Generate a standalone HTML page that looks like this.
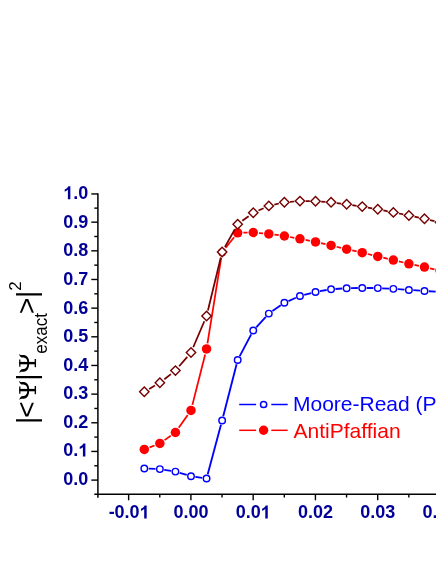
<!DOCTYPE html>
<html><head><meta charset="utf-8"><style>
html,body{margin:0;padding:0;background:#fff;}
body{width:436px;height:564px;overflow:hidden;font-family:"Liberation Sans",sans-serif;}
svg{display:block;will-change:transform}
</style></head><body>
<svg width="436" height="564" viewBox="0 0 436 564">
<rect width="436" height="564" fill="#fff"/>
<g stroke="#000" stroke-width="1.6" fill="none">
<line x1="97.9" y1="193.25" x2="97.9" y2="497.7" stroke-width="1.5"/>
<line x1="94.30000000000001" y1="494.3" x2="440" y2="494.3" stroke-width="1.5"/>
</g>
<g stroke="#000" stroke-width="1.4" fill="none">
<line x1="91.30000000000001" y1="480.10" x2="97.9" y2="480.10"/>
<line x1="91.30000000000001" y1="451.44" x2="97.9" y2="451.44"/>
<line x1="91.30000000000001" y1="422.78" x2="97.9" y2="422.78"/>
<line x1="91.30000000000001" y1="394.12" x2="97.9" y2="394.12"/>
<line x1="91.30000000000001" y1="365.46" x2="97.9" y2="365.46"/>
<line x1="91.30000000000001" y1="336.80" x2="97.9" y2="336.80"/>
<line x1="91.30000000000001" y1="308.14" x2="97.9" y2="308.14"/>
<line x1="91.30000000000001" y1="279.48" x2="97.9" y2="279.48"/>
<line x1="91.30000000000001" y1="250.82" x2="97.9" y2="250.82"/>
<line x1="91.30000000000001" y1="222.16" x2="97.9" y2="222.16"/>
<line x1="91.30000000000001" y1="193.95" x2="97.9" y2="193.95"/>
<line x1="94.30000000000001" y1="465.77" x2="97.9" y2="465.77"/>
<line x1="94.30000000000001" y1="437.11" x2="97.9" y2="437.11"/>
<line x1="94.30000000000001" y1="408.45" x2="97.9" y2="408.45"/>
<line x1="94.30000000000001" y1="379.79" x2="97.9" y2="379.79"/>
<line x1="94.30000000000001" y1="351.13" x2="97.9" y2="351.13"/>
<line x1="94.30000000000001" y1="322.47" x2="97.9" y2="322.47"/>
<line x1="94.30000000000001" y1="293.81" x2="97.9" y2="293.81"/>
<line x1="94.30000000000001" y1="265.15" x2="97.9" y2="265.15"/>
<line x1="94.30000000000001" y1="236.49" x2="97.9" y2="236.49"/>
<line x1="94.30000000000001" y1="208.13" x2="97.9" y2="208.13"/>
<line x1="128.63" y1="494.3" x2="128.63" y2="500.3"/>
<line x1="190.90" y1="494.3" x2="190.90" y2="500.3"/>
<line x1="253.17" y1="494.3" x2="253.17" y2="500.3"/>
<line x1="315.44" y1="494.3" x2="315.44" y2="500.3"/>
<line x1="377.71" y1="494.3" x2="377.71" y2="500.3"/>
<line x1="439.98" y1="494.3" x2="439.98" y2="500.3"/>
<line x1="159.77" y1="494.3" x2="159.77" y2="497.5"/>
<line x1="222.03" y1="494.3" x2="222.03" y2="497.5"/>
<line x1="284.31" y1="494.3" x2="284.31" y2="497.5"/>
<line x1="346.57" y1="494.3" x2="346.57" y2="497.5"/>
<line x1="408.85" y1="494.3" x2="408.85" y2="497.5"/>
</g>
<g font-family="Liberation Sans, sans-serif" font-weight="bold" font-size="18px" fill="#000098">
<text x="63.28" y="485.05">0</text><text x="73.29" y="485.05">.</text><text x="78.29" y="485.05">0</text>
<text x="63.28" y="456.46">0</text><text x="73.29" y="456.46">.</text><path d="M85.38,456.46 L82.91,456.46 L82.91,447.15 Q81.55,448.42 79.72,449.02 L79.72,446.78 Q80.68,446.47 81.82,445.58 Q82.95,444.70 83.37,443.52 L85.38,443.52 Z" fill="#000098"/>
<text x="63.28" y="427.87">0</text><text x="73.29" y="427.87">.</text><text x="78.29" y="427.87">2</text>
<text x="63.28" y="399.28">0</text><text x="73.29" y="399.28">.</text><text x="78.29" y="399.28">3</text>
<text x="63.28" y="370.69">0</text><text x="73.29" y="370.69">.</text><text x="78.29" y="370.69">4</text>
<text x="63.28" y="342.10">0</text><text x="73.29" y="342.10">.</text><text x="78.29" y="342.10">5</text>
<text x="63.28" y="313.51">0</text><text x="73.29" y="313.51">.</text><text x="78.29" y="313.51">6</text>
<text x="63.28" y="284.92">0</text><text x="73.29" y="284.92">.</text><text x="78.29" y="284.92">7</text>
<text x="63.28" y="256.33">0</text><text x="73.29" y="256.33">.</text><text x="78.29" y="256.33">8</text>
<text x="63.28" y="227.74">0</text><text x="73.29" y="227.74">.</text><text x="78.29" y="227.74">9</text>
<path d="M70.36,199.15 L67.89,199.15 L67.89,189.84 Q66.54,191.11 64.70,191.71 L64.70,189.47 Q65.67,189.16 66.80,188.27 Q67.94,187.39 68.36,186.21 L70.36,186.21 Z" fill="#000098"/><text x="73.29" y="199.15">.</text><text x="78.29" y="199.15">0</text>
<text x="108.82" y="518.40">-</text><text x="114.56" y="518.40">0</text><text x="124.57" y="518.40">.</text><text x="129.57" y="518.40">0</text><path d="M146.67,518.40 L144.20,518.40 L144.20,509.09 Q142.84,510.36 141.01,510.96 L141.01,508.72 Q141.97,508.41 143.11,507.52 Q144.24,506.64 144.66,505.46 L146.67,505.46 Z" fill="#000098"/>
<text x="173.39" y="518.40">0</text><text x="183.39" y="518.40">.</text><text x="188.40" y="518.40">0</text><text x="198.41" y="518.40">0</text>
<text x="235.66" y="518.40">0</text><text x="245.66" y="518.40">.</text><text x="250.67" y="518.40">0</text><path d="M267.76,518.40 L265.29,518.40 L265.29,509.09 Q263.94,510.36 262.10,510.96 L262.10,508.72 Q263.07,508.41 264.20,507.52 Q265.33,506.64 265.76,505.46 L267.76,505.46 Z" fill="#000098"/>
<text x="297.93" y="518.40">0</text><text x="307.93" y="518.40">.</text><text x="312.94" y="518.40">0</text><text x="322.95" y="518.40">2</text>
<text x="360.20" y="518.40">0</text><text x="370.20" y="518.40">.</text><text x="375.21" y="518.40">0</text><text x="385.22" y="518.40">3</text>
<text x="422.47" y="518.40">0</text><text x="432.47" y="518.40">.</text><text x="437.48" y="518.40">0</text><text x="447.49" y="518.40">4</text>
</g>
<line x1="148.70" y1="468.60" x2="155.47" y2="468.90" stroke="#0000ff" stroke-width="1.85"/>
<line x1="164.21" y1="469.80" x2="171.09" y2="470.90" stroke="#0000ff" stroke-width="1.85"/>
<line x1="179.65" y1="472.85" x2="186.78" y2="474.95" stroke="#0000ff" stroke-width="1.85"/>
<line x1="195.35" y1="476.84" x2="202.21" y2="477.86" stroke="#0000ff" stroke-width="1.85"/>
<line x1="207.70" y1="474.25" x2="220.98" y2="424.75" stroke="#0000ff" stroke-width="1.85"/>
<line x1="223.22" y1="416.24" x2="236.59" y2="364.26" stroke="#0000ff" stroke-width="1.85"/>
<line x1="239.74" y1="356.11" x2="251.20" y2="334.39" stroke="#0000ff" stroke-width="1.85"/>
<line x1="256.24" y1="327.26" x2="265.84" y2="316.84" stroke="#0000ff" stroke-width="1.85"/>
<line x1="272.44" y1="311.09" x2="280.77" y2="305.31" stroke="#0000ff" stroke-width="1.85"/>
<line x1="288.42" y1="301.04" x2="295.92" y2="297.76" stroke="#0000ff" stroke-width="1.85"/>
<line x1="304.20" y1="294.88" x2="311.26" y2="293.02" stroke="#0000ff" stroke-width="1.85"/>
<line x1="319.85" y1="291.18" x2="326.74" y2="290.02" stroke="#0000ff" stroke-width="1.85"/>
<line x1="335.47" y1="288.99" x2="342.26" y2="288.51" stroke="#0000ff" stroke-width="1.85"/>
<line x1="351.04" y1="288.12" x2="357.81" y2="287.98" stroke="#0000ff" stroke-width="1.85"/>
<line x1="366.61" y1="287.96" x2="373.38" y2="288.04" stroke="#0000ff" stroke-width="1.85"/>
<line x1="382.17" y1="288.31" x2="388.95" y2="288.64" stroke="#0000ff" stroke-width="1.85"/>
<line x1="397.73" y1="289.15" x2="404.51" y2="289.60" stroke="#0000ff" stroke-width="1.85"/>
<line x1="413.30" y1="290.18" x2="420.08" y2="290.62" stroke="#0000ff" stroke-width="1.85"/>
<line x1="428.86" y1="291.21" x2="435.65" y2="291.69" stroke="#0000ff" stroke-width="1.85"/>
<circle cx="144.30" cy="468.40" r="3.25" fill="#fff" stroke="#0000ff" stroke-width="1.45"/>
<circle cx="159.87" cy="469.10" r="3.25" fill="#fff" stroke="#0000ff" stroke-width="1.45"/>
<circle cx="175.43" cy="471.60" r="3.25" fill="#fff" stroke="#0000ff" stroke-width="1.45"/>
<circle cx="191.00" cy="476.20" r="3.25" fill="#fff" stroke="#0000ff" stroke-width="1.45"/>
<circle cx="206.56" cy="478.50" r="3.25" fill="#fff" stroke="#0000ff" stroke-width="1.45"/>
<circle cx="222.12" cy="420.50" r="3.25" fill="#fff" stroke="#0000ff" stroke-width="1.45"/>
<circle cx="237.69" cy="360.00" r="3.25" fill="#fff" stroke="#0000ff" stroke-width="1.45"/>
<circle cx="253.25" cy="330.50" r="3.25" fill="#fff" stroke="#0000ff" stroke-width="1.45"/>
<circle cx="268.82" cy="313.60" r="3.25" fill="#fff" stroke="#0000ff" stroke-width="1.45"/>
<circle cx="284.38" cy="302.80" r="3.25" fill="#fff" stroke="#0000ff" stroke-width="1.45"/>
<circle cx="299.95" cy="296.00" r="3.25" fill="#fff" stroke="#0000ff" stroke-width="1.45"/>
<circle cx="315.51" cy="291.90" r="3.25" fill="#fff" stroke="#0000ff" stroke-width="1.45"/>
<circle cx="331.08" cy="289.30" r="3.25" fill="#fff" stroke="#0000ff" stroke-width="1.45"/>
<circle cx="346.64" cy="288.20" r="3.25" fill="#fff" stroke="#0000ff" stroke-width="1.45"/>
<circle cx="362.21" cy="287.90" r="3.25" fill="#fff" stroke="#0000ff" stroke-width="1.45"/>
<circle cx="377.77" cy="288.10" r="3.25" fill="#fff" stroke="#0000ff" stroke-width="1.45"/>
<circle cx="393.34" cy="288.85" r="3.25" fill="#fff" stroke="#0000ff" stroke-width="1.45"/>
<circle cx="408.91" cy="289.90" r="3.25" fill="#fff" stroke="#0000ff" stroke-width="1.45"/>
<circle cx="424.47" cy="290.90" r="3.25" fill="#fff" stroke="#0000ff" stroke-width="1.45"/>
<circle cx="440.04" cy="292.00" r="3.25" fill="#fff" stroke="#0000ff" stroke-width="1.45"/>
<line x1="149.62" y1="447.35" x2="154.55" y2="445.45" stroke="#ff0000" stroke-width="1.75"/>
<line x1="164.53" y1="440.13" x2="170.76" y2="435.77" stroke="#ff0000" stroke-width="1.75"/>
<line x1="178.71" y1="427.84" x2="187.71" y2="415.06" stroke="#ff0000" stroke-width="1.75"/>
<line x1="192.39" y1="404.87" x2="205.16" y2="354.43" stroke="#ff0000" stroke-width="1.75"/>
<line x1="207.47" y1="343.27" x2="221.22" y2="257.83" stroke="#ff0000" stroke-width="1.75"/>
<line x1="225.69" y1="247.75" x2="234.12" y2="237.25" stroke="#ff0000" stroke-width="1.75"/>
<line x1="243.39" y1="232.69" x2="247.56" y2="232.61" stroke="#ff0000" stroke-width="1.75"/>
<line x1="258.93" y1="233.01" x2="263.14" y2="233.39" stroke="#ff0000" stroke-width="1.75"/>
<line x1="274.47" y1="234.66" x2="278.74" y2="235.24" stroke="#ff0000" stroke-width="1.75"/>
<line x1="289.99" y1="237.01" x2="294.34" y2="237.79" stroke="#ff0000" stroke-width="1.75"/>
<line x1="305.54" y1="239.91" x2="309.92" y2="240.79" stroke="#ff0000" stroke-width="1.75"/>
<line x1="321.08" y1="243.15" x2="325.52" y2="244.15" stroke="#ff0000" stroke-width="1.75"/>
<line x1="336.62" y1="246.75" x2="341.11" y2="247.85" stroke="#ff0000" stroke-width="1.75"/>
<line x1="352.21" y1="250.45" x2="356.65" y2="251.45" stroke="#ff0000" stroke-width="1.75"/>
<line x1="367.76" y1="254.02" x2="372.23" y2="255.08" stroke="#ff0000" stroke-width="1.75"/>
<line x1="383.32" y1="257.72" x2="387.79" y2="258.78" stroke="#ff0000" stroke-width="1.75"/>
<line x1="398.89" y1="261.42" x2="403.36" y2="262.48" stroke="#ff0000" stroke-width="1.75"/>
<line x1="414.48" y1="264.98" x2="418.89" y2="265.92" stroke="#ff0000" stroke-width="1.75"/>
<line x1="430.04" y1="268.32" x2="434.47" y2="269.28" stroke="#ff0000" stroke-width="1.75"/>
<circle cx="144.30" cy="449.40" r="4.75" fill="#ff0000"/>
<circle cx="159.87" cy="443.40" r="4.75" fill="#ff0000"/>
<circle cx="175.43" cy="432.50" r="4.75" fill="#ff0000"/>
<circle cx="191.00" cy="410.40" r="4.75" fill="#ff0000"/>
<circle cx="206.56" cy="348.90" r="4.75" fill="#ff0000"/>
<circle cx="222.12" cy="252.20" r="4.2" fill="#ff0000"/>
<circle cx="237.69" cy="232.80" r="4.75" fill="#ff0000"/>
<circle cx="253.25" cy="232.50" r="4.75" fill="#ff0000"/>
<circle cx="268.82" cy="233.90" r="4.75" fill="#ff0000"/>
<circle cx="284.38" cy="236.00" r="4.75" fill="#ff0000"/>
<circle cx="299.95" cy="238.80" r="4.75" fill="#ff0000"/>
<circle cx="315.51" cy="241.90" r="4.75" fill="#ff0000"/>
<circle cx="331.08" cy="245.40" r="4.75" fill="#ff0000"/>
<circle cx="346.64" cy="249.20" r="4.75" fill="#ff0000"/>
<circle cx="362.21" cy="252.70" r="4.75" fill="#ff0000"/>
<circle cx="377.77" cy="256.40" r="4.75" fill="#ff0000"/>
<circle cx="393.34" cy="260.10" r="4.75" fill="#ff0000"/>
<circle cx="408.91" cy="263.80" r="4.75" fill="#ff0000"/>
<circle cx="424.47" cy="267.10" r="4.75" fill="#ff0000"/>
<circle cx="440.04" cy="270.50" r="4.75" fill="#ff0000"/>
<line x1="149.22" y1="388.92" x2="154.94" y2="385.58" stroke="#740000" stroke-width="1.75"/>
<line x1="164.37" y1="379.20" x2="170.93" y2="374.10" stroke="#740000" stroke-width="1.75"/>
<line x1="179.15" y1="366.28" x2="187.28" y2="356.82" stroke="#740000" stroke-width="1.75"/>
<line x1="193.23" y1="347.26" x2="204.32" y2="321.24" stroke="#740000" stroke-width="1.75"/>
<line x1="207.91" y1="310.46" x2="220.78" y2="257.54" stroke="#740000" stroke-width="1.75"/>
<line x1="224.91" y1="247.03" x2="234.91" y2="229.17" stroke="#740000" stroke-width="1.75"/>
<line x1="242.29" y1="220.83" x2="248.66" y2="216.17" stroke="#740000" stroke-width="1.75"/>
<line x1="258.47" y1="210.49" x2="263.61" y2="208.21" stroke="#740000" stroke-width="1.75"/>
<line x1="274.37" y1="204.58" x2="278.84" y2="203.52" stroke="#740000" stroke-width="1.75"/>
<line x1="290.07" y1="201.80" x2="294.26" y2="201.50" stroke="#740000" stroke-width="1.75"/>
<line x1="305.65" y1="201.17" x2="309.82" y2="201.23" stroke="#740000" stroke-width="1.75"/>
<line x1="321.20" y1="201.67" x2="325.39" y2="201.93" stroke="#740000" stroke-width="1.75"/>
<line x1="336.73" y1="203.03" x2="340.99" y2="203.57" stroke="#740000" stroke-width="1.75"/>
<line x1="352.28" y1="205.13" x2="356.57" y2="205.77" stroke="#740000" stroke-width="1.75"/>
<line x1="367.83" y1="207.57" x2="372.16" y2="208.33" stroke="#740000" stroke-width="1.75"/>
<line x1="383.37" y1="210.41" x2="387.75" y2="211.29" stroke="#740000" stroke-width="1.75"/>
<line x1="398.93" y1="213.51" x2="403.31" y2="214.39" stroke="#740000" stroke-width="1.75"/>
<line x1="414.48" y1="216.68" x2="418.89" y2="217.62" stroke="#740000" stroke-width="1.75"/>
<line x1="430.03" y1="220.05" x2="434.47" y2="221.05" stroke="#740000" stroke-width="1.75"/>
<path d="M139.60 391.80L144.30 387.10L149.00 391.80L144.30 396.50Z" fill="#fff" stroke="#740000" stroke-width="1.4" stroke-linejoin="miter"/>
<path d="M155.17 382.70L159.87 378.00L164.56 382.70L159.87 387.40Z" fill="#fff" stroke="#740000" stroke-width="1.4" stroke-linejoin="miter"/>
<path d="M170.73 370.60L175.43 365.90L180.13 370.60L175.43 375.30Z" fill="#fff" stroke="#740000" stroke-width="1.4" stroke-linejoin="miter"/>
<path d="M186.30 352.50L191.00 347.80L195.69 352.50L191.00 357.20Z" fill="#fff" stroke="#740000" stroke-width="1.4" stroke-linejoin="miter"/>
<path d="M201.86 316.00L206.56 311.30L211.26 316.00L206.56 320.70Z" fill="#fff" stroke="#740000" stroke-width="1.4" stroke-linejoin="miter"/>
<path d="M217.43 252.00L222.12 247.30L226.82 252.00L222.12 256.70Z" fill="#fff" stroke="#740000" stroke-width="1.4" stroke-linejoin="miter"/>
<path d="M232.99 224.20L237.69 219.50L242.39 224.20L237.69 228.90Z" fill="#fff" stroke="#740000" stroke-width="1.4" stroke-linejoin="miter"/>
<path d="M248.56 212.80L253.25 208.10L257.95 212.80L253.25 217.50Z" fill="#fff" stroke="#740000" stroke-width="1.4" stroke-linejoin="miter"/>
<path d="M264.12 205.90L268.82 201.20L273.52 205.90L268.82 210.60Z" fill="#fff" stroke="#740000" stroke-width="1.4" stroke-linejoin="miter"/>
<path d="M279.69 202.20L284.38 197.50L289.08 202.20L284.38 206.90Z" fill="#fff" stroke="#740000" stroke-width="1.4" stroke-linejoin="miter"/>
<path d="M295.25 201.10L299.95 196.40L304.65 201.10L299.95 205.80Z" fill="#fff" stroke="#740000" stroke-width="1.4" stroke-linejoin="miter"/>
<path d="M310.81 201.30L315.51 196.60L320.21 201.30L315.51 206.00Z" fill="#fff" stroke="#740000" stroke-width="1.4" stroke-linejoin="miter"/>
<path d="M326.38 202.30L331.08 197.60L335.78 202.30L331.08 207.00Z" fill="#fff" stroke="#740000" stroke-width="1.4" stroke-linejoin="miter"/>
<path d="M341.94 204.30L346.64 199.60L351.34 204.30L346.64 209.00Z" fill="#fff" stroke="#740000" stroke-width="1.4" stroke-linejoin="miter"/>
<path d="M357.51 206.60L362.21 201.90L366.91 206.60L362.21 211.30Z" fill="#fff" stroke="#740000" stroke-width="1.4" stroke-linejoin="miter"/>
<path d="M373.07 209.30L377.77 204.60L382.47 209.30L377.77 214.00Z" fill="#fff" stroke="#740000" stroke-width="1.4" stroke-linejoin="miter"/>
<path d="M388.64 212.40L393.34 207.70L398.04 212.40L393.34 217.10Z" fill="#fff" stroke="#740000" stroke-width="1.4" stroke-linejoin="miter"/>
<path d="M404.21 215.50L408.91 210.80L413.61 215.50L408.91 220.20Z" fill="#fff" stroke="#740000" stroke-width="1.4" stroke-linejoin="miter"/>
<path d="M419.77 218.80L424.47 214.10L429.17 218.80L424.47 223.50Z" fill="#fff" stroke="#740000" stroke-width="1.4" stroke-linejoin="miter"/>
<path d="M435.34 222.30L440.04 217.60L444.74 222.30L440.04 227.00Z" fill="#fff" stroke="#740000" stroke-width="1.4" stroke-linejoin="miter"/>
<g stroke="#0000ff" stroke-width="1.5"><line x1="239.2" y1="404.5" x2="256.1" y2="404.5"/><line x1="271.3" y1="404.5" x2="287.7" y2="404.5"/><circle cx="263.6" cy="404.5" r="3.1" fill="#fff"/></g>
<g stroke="#ff0000" stroke-width="1.5"><line x1="239.2" y1="430.3" x2="256.1" y2="430.3"/><line x1="271.3" y1="430.3" x2="287.7" y2="430.3"/><circle cx="263.6" cy="430.2" r="4.7" fill="#ff0000" stroke="none"/></g>
<g font-family="Liberation Sans, sans-serif" font-size="21px"><text x="293.0" y="411.2" fill="#0000ff">Moore-Read (Pfaffian)</text><text x="293.6" y="437.7" fill="#ff0000">AntiPfaffian</text></g>
<g transform="translate(35.9,424) rotate(-90)" font-family="Liberation Sans, sans-serif" font-size="28px" fill="#000" text-anchor="middle">
<text x="3.70" y="0">|</text>
<text x="14.50" y="0">&lt;</text>
<path d="M23.30 -17.20C23.58 -16.87 24.67 -15.82 25.00 -15.20C25.33 -14.58 25.20 -14.20 25.30 -13.50C25.40 -12.80 25.30 -11.82 25.60 -11.00C25.90 -10.18 26.32 -9.25 27.10 -8.60C27.88 -7.95 29.17 -7.40 30.30 -7.10C31.43 -6.80 32.72 -6.80 33.90 -6.80C35.08 -6.80 36.33 -6.80 37.40 -7.10C38.47 -7.40 39.58 -7.95 40.30 -8.60C41.02 -9.25 41.43 -10.18 41.70 -11.00C41.97 -11.82 41.87 -12.80 41.90 -13.50C41.93 -14.20 41.73 -14.58 41.90 -15.20C42.07 -15.82 42.73 -16.87 42.90 -17.20L42.10 -16.60C41.87 -16.48 41.13 -16.28 40.70 -15.90C40.27 -15.52 39.73 -14.98 39.50 -14.30C39.27 -13.62 39.47 -12.52 39.30 -11.80C39.13 -11.08 38.93 -10.48 38.50 -10.00C38.07 -9.52 37.47 -9.13 36.70 -8.90C35.93 -8.67 34.85 -8.60 33.90 -8.60C32.95 -8.60 31.82 -8.67 31.00 -8.90C30.18 -9.13 29.50 -9.52 29.00 -10.00C28.50 -10.48 28.22 -11.08 28.00 -11.80C27.78 -12.52 28.02 -13.62 27.70 -14.30C27.38 -14.98 26.70 -15.52 26.10 -15.90C25.50 -16.28 24.43 -16.48 24.10 -16.60Z" fill="#000"/><line x1="33.89999999999998" y1="0" x2="33.89999999999998" y2="-16.6" stroke="#000" stroke-width="2.4"/><line x1="29.799999999999976" y1="-0.55" x2="37.99999999999998" y2="-0.55" stroke="#000" stroke-width="1.4"/><line x1="30.199999999999978" y1="-16.1" x2="37.59999999999998" y2="-16.1" stroke="#000" stroke-width="1.25"/>
<text x="46.90" y="0">|</text>
<path d="M50.30 -17.20C50.58 -16.87 51.67 -15.82 52.00 -15.20C52.33 -14.58 52.20 -14.20 52.30 -13.50C52.40 -12.80 52.30 -11.82 52.60 -11.00C52.90 -10.18 53.32 -9.25 54.10 -8.60C54.88 -7.95 56.17 -7.40 57.30 -7.10C58.43 -6.80 59.72 -6.80 60.90 -6.80C62.08 -6.80 63.33 -6.80 64.40 -7.10C65.47 -7.40 66.58 -7.95 67.30 -8.60C68.02 -9.25 68.43 -10.18 68.70 -11.00C68.97 -11.82 68.87 -12.80 68.90 -13.50C68.93 -14.20 68.73 -14.58 68.90 -15.20C69.07 -15.82 69.73 -16.87 69.90 -17.20L69.10 -16.60C68.87 -16.48 68.13 -16.28 67.70 -15.90C67.27 -15.52 66.73 -14.98 66.50 -14.30C66.27 -13.62 66.47 -12.52 66.30 -11.80C66.13 -11.08 65.93 -10.48 65.50 -10.00C65.07 -9.52 64.47 -9.13 63.70 -8.90C62.93 -8.67 61.85 -8.60 60.90 -8.60C59.95 -8.60 58.82 -8.67 58.00 -8.90C57.18 -9.13 56.50 -9.52 56.00 -10.00C55.50 -10.48 55.22 -11.08 55.00 -11.80C54.78 -12.52 55.02 -13.62 54.70 -14.30C54.38 -14.98 53.70 -15.52 53.10 -15.90C52.50 -16.28 51.43 -16.48 51.10 -16.60Z" fill="#000"/><line x1="60.89999999999998" y1="0" x2="60.89999999999998" y2="-16.6" stroke="#000" stroke-width="2.4"/><line x1="56.799999999999976" y1="-0.55" x2="64.99999999999997" y2="-0.55" stroke="#000" stroke-width="1.4"/><line x1="57.199999999999974" y1="-16.1" x2="64.59999999999998" y2="-16.1" stroke="#000" stroke-width="1.25"/>
<text transform="translate(90.70,11.0) scale(0.935,1)" x="0" y="0" font-size="18.2px">exact</text>
<text x="118.15" y="0">&gt;</text>
<text x="129.75" y="0">|</text>
<text x="138.00" y="-14.6" font-size="17px">2</text>
</g>
</svg>
</body></html>
